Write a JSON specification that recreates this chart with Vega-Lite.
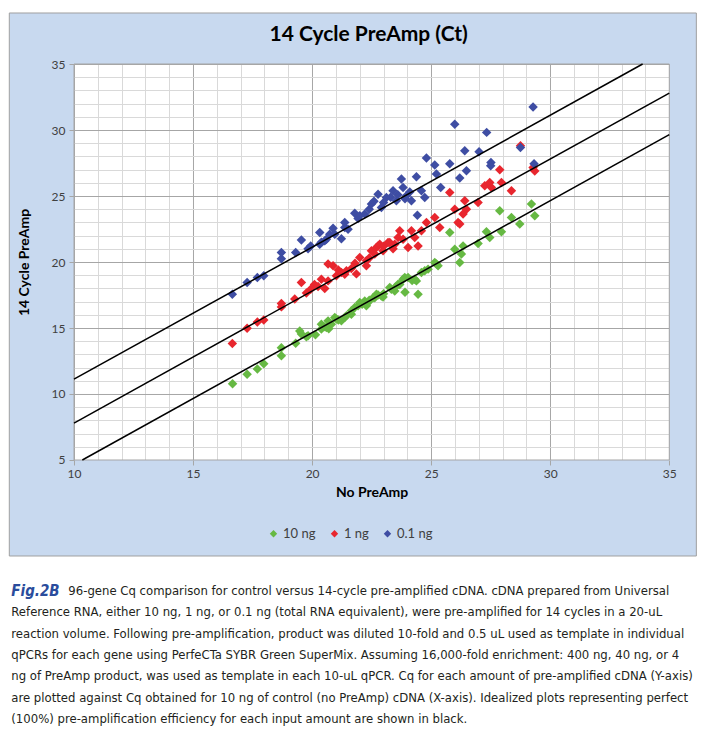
{
  "$schema": "https://vega.github.io/schema/vega-lite/v6.json",
  "background": "white",
  "padding": {"left": 8, "top": 12, "right": 7, "bottom": 0},
  "spacing": 23,
  "align": "none",
  "config": {"font": "Lato", "axis": {"labelOverlap": false}},
  "datasets": {
    "cq": [
      {"amount": "10 ng", "no_preamp": 16.66, "preamp": 10.78},
      {"amount": "10 ng", "no_preamp": 17.27, "preamp": 11.5},
      {"amount": "10 ng", "no_preamp": 17.7, "preamp": 11.9},
      {"amount": "10 ng", "no_preamp": 17.97, "preamp": 12.3},
      {"amount": "10 ng", "no_preamp": 18.71, "preamp": 12.9},
      {"amount": "10 ng", "no_preamp": 18.71, "preamp": 13.5},
      {"amount": "10 ng", "no_preamp": 19.31, "preamp": 13.85},
      {"amount": "10 ng", "no_preamp": 19.48, "preamp": 14.78},
      {"amount": "10 ng", "no_preamp": 19.55, "preamp": 14.55},
      {"amount": "10 ng", "no_preamp": 19.76, "preamp": 14.33},
      {"amount": "10 ng", "no_preamp": 19.83, "preamp": 14.42},
      {"amount": "10 ng", "no_preamp": 20.14, "preamp": 14.48},
      {"amount": "10 ng", "no_preamp": 20.39, "preamp": 14.93},
      {"amount": "10 ng", "no_preamp": 20.39, "preamp": 15.29},
      {"amount": "10 ng", "no_preamp": 20.5, "preamp": 15.1},
      {"amount": "10 ng", "no_preamp": 20.6, "preamp": 15.03},
      {"amount": "10 ng", "no_preamp": 20.67, "preamp": 15.54},
      {"amount": "10 ng", "no_preamp": 20.7, "preamp": 14.95},
      {"amount": "10 ng", "no_preamp": 20.81, "preamp": 15.29},
      {"amount": "10 ng", "no_preamp": 20.95, "preamp": 15.79},
      {"amount": "10 ng", "no_preamp": 21.02, "preamp": 15.69},
      {"amount": "10 ng", "no_preamp": 21.1, "preamp": 15.6},
      {"amount": "10 ng", "no_preamp": 21.23, "preamp": 15.54},
      {"amount": "10 ng", "no_preamp": 21.37, "preamp": 15.79},
      {"amount": "10 ng", "no_preamp": 21.44, "preamp": 15.92},
      {"amount": "10 ng", "no_preamp": 21.65, "preamp": 16.05},
      {"amount": "10 ng", "no_preamp": 21.65, "preamp": 16.3},
      {"amount": "10 ng", "no_preamp": 21.79, "preamp": 16.55},
      {"amount": "10 ng", "no_preamp": 21.93, "preamp": 16.68},
      {"amount": "10 ng", "no_preamp": 22.0, "preamp": 16.93},
      {"amount": "10 ng", "no_preamp": 22.1, "preamp": 16.8},
      {"amount": "10 ng", "no_preamp": 22.21, "preamp": 17.05},
      {"amount": "10 ng", "no_preamp": 22.28, "preamp": 16.68},
      {"amount": "10 ng", "no_preamp": 22.35, "preamp": 16.93},
      {"amount": "10 ng", "no_preamp": 22.4, "preamp": 17.1},
      {"amount": "10 ng", "no_preamp": 22.56, "preamp": 17.3},
      {"amount": "10 ng", "no_preamp": 22.63, "preamp": 17.3},
      {"amount": "10 ng", "no_preamp": 22.7, "preamp": 17.56},
      {"amount": "10 ng", "no_preamp": 22.77, "preamp": 17.5},
      {"amount": "10 ng", "no_preamp": 22.91, "preamp": 17.43},
      {"amount": "10 ng", "no_preamp": 22.98, "preamp": 17.35},
      {"amount": "10 ng", "no_preamp": 23.0, "preamp": 17.6},
      {"amount": "10 ng", "no_preamp": 23.26, "preamp": 18.06},
      {"amount": "10 ng", "no_preamp": 23.33, "preamp": 17.94},
      {"amount": "10 ng", "no_preamp": 23.47, "preamp": 17.81},
      {"amount": "10 ng", "no_preamp": 23.5, "preamp": 18.1},
      {"amount": "10 ng", "no_preamp": 23.61, "preamp": 18.32},
      {"amount": "10 ng", "no_preamp": 23.68, "preamp": 18.3},
      {"amount": "10 ng", "no_preamp": 23.82, "preamp": 18.7},
      {"amount": "10 ng", "no_preamp": 23.89, "preamp": 18.82},
      {"amount": "10 ng", "no_preamp": 23.9, "preamp": 17.7},
      {"amount": "10 ng", "no_preamp": 24.03, "preamp": 18.82},
      {"amount": "10 ng", "no_preamp": 24.2, "preamp": 18.6},
      {"amount": "10 ng", "no_preamp": 24.31, "preamp": 18.7},
      {"amount": "10 ng", "no_preamp": 24.38, "preamp": 18.57},
      {"amount": "10 ng", "no_preamp": 24.45, "preamp": 17.56},
      {"amount": "10 ng", "no_preamp": 24.59, "preamp": 19.2},
      {"amount": "10 ng", "no_preamp": 24.73, "preamp": 19.33},
      {"amount": "10 ng", "no_preamp": 24.87, "preamp": 19.46},
      {"amount": "10 ng", "no_preamp": 25.15, "preamp": 19.96},
      {"amount": "10 ng", "no_preamp": 25.22, "preamp": 19.84},
      {"amount": "10 ng", "no_preamp": 25.29, "preamp": 19.71},
      {"amount": "10 ng", "no_preamp": 25.78, "preamp": 22.23},
      {"amount": "10 ng", "no_preamp": 25.99, "preamp": 20.97},
      {"amount": "10 ng", "no_preamp": 26.2, "preamp": 19.96},
      {"amount": "10 ng", "no_preamp": 26.27, "preamp": 20.6},
      {"amount": "10 ng", "no_preamp": 26.34, "preamp": 21.22},
      {"amount": "10 ng", "no_preamp": 26.97, "preamp": 21.4},
      {"amount": "10 ng", "no_preamp": 27.32, "preamp": 22.3},
      {"amount": "10 ng", "no_preamp": 27.46, "preamp": 21.85},
      {"amount": "10 ng", "no_preamp": 27.88, "preamp": 23.88},
      {"amount": "10 ng", "no_preamp": 27.95, "preamp": 22.3},
      {"amount": "10 ng", "no_preamp": 28.37, "preamp": 23.37},
      {"amount": "10 ng", "no_preamp": 28.72, "preamp": 22.87},
      {"amount": "10 ng", "no_preamp": 29.21, "preamp": 24.39},
      {"amount": "10 ng", "no_preamp": 29.35, "preamp": 23.5},

      {"amount": "1 ng", "no_preamp": 16.65, "preamp": 13.82},
      {"amount": "1 ng", "no_preamp": 17.27, "preamp": 14.98},
      {"amount": "1 ng", "no_preamp": 17.7, "preamp": 15.45},
      {"amount": "1 ng", "no_preamp": 17.97, "preamp": 15.6},
      {"amount": "1 ng", "no_preamp": 18.71, "preamp": 16.85},
      {"amount": "1 ng", "no_preamp": 18.71, "preamp": 16.6},
      {"amount": "1 ng", "no_preamp": 19.27, "preamp": 17.2},
      {"amount": "1 ng", "no_preamp": 19.55, "preamp": 18.44},
      {"amount": "1 ng", "no_preamp": 19.76, "preamp": 17.65},
      {"amount": "1 ng", "no_preamp": 19.94, "preamp": 17.94},
      {"amount": "1 ng", "no_preamp": 20.1, "preamp": 18.3},
      {"amount": "1 ng", "no_preamp": 20.25, "preamp": 18.15},
      {"amount": "1 ng", "no_preamp": 20.39, "preamp": 18.7},
      {"amount": "1 ng", "no_preamp": 20.53, "preamp": 18.0},
      {"amount": "1 ng", "no_preamp": 20.67, "preamp": 18.57},
      {"amount": "1 ng", "no_preamp": 20.67, "preamp": 19.84},
      {"amount": "1 ng", "no_preamp": 20.88, "preamp": 19.71},
      {"amount": "1 ng", "no_preamp": 21.02, "preamp": 18.95},
      {"amount": "1 ng", "no_preamp": 21.1, "preamp": 19.4},
      {"amount": "1 ng", "no_preamp": 21.23, "preamp": 19.2},
      {"amount": "1 ng", "no_preamp": 21.37, "preamp": 19.08},
      {"amount": "1 ng", "no_preamp": 21.44, "preamp": 19.33},
      {"amount": "1 ng", "no_preamp": 21.65, "preamp": 19.5},
      {"amount": "1 ng", "no_preamp": 21.8, "preamp": 19.9},
      {"amount": "1 ng", "no_preamp": 21.86, "preamp": 19.1},
      {"amount": "1 ng", "no_preamp": 22.0, "preamp": 20.34},
      {"amount": "1 ng", "no_preamp": 22.28, "preamp": 20.09},
      {"amount": "1 ng", "no_preamp": 22.28, "preamp": 19.71},
      {"amount": "1 ng", "no_preamp": 22.4, "preamp": 20.3},
      {"amount": "1 ng", "no_preamp": 22.49, "preamp": 20.85},
      {"amount": "1 ng", "no_preamp": 22.63, "preamp": 20.6},
      {"amount": "1 ng", "no_preamp": 22.7, "preamp": 21.1},
      {"amount": "1 ng", "no_preamp": 22.77, "preamp": 21.22},
      {"amount": "1 ng", "no_preamp": 22.84, "preamp": 21.35},
      {"amount": "1 ng", "no_preamp": 22.98, "preamp": 20.85},
      {"amount": "1 ng", "no_preamp": 23.0, "preamp": 21.2},
      {"amount": "1 ng", "no_preamp": 23.19, "preamp": 21.47},
      {"amount": "1 ng", "no_preamp": 23.26, "preamp": 21.47},
      {"amount": "1 ng", "no_preamp": 23.4, "preamp": 21.0},
      {"amount": "1 ng", "no_preamp": 23.47, "preamp": 21.35},
      {"amount": "1 ng", "no_preamp": 23.61, "preamp": 21.85},
      {"amount": "1 ng", "no_preamp": 23.68, "preamp": 22.36},
      {"amount": "1 ng", "no_preamp": 23.82, "preamp": 21.73},
      {"amount": "1 ng", "no_preamp": 24.03, "preamp": 21.1},
      {"amount": "1 ng", "no_preamp": 24.17, "preamp": 22.36},
      {"amount": "1 ng", "no_preamp": 24.31, "preamp": 21.85},
      {"amount": "1 ng", "no_preamp": 24.45, "preamp": 21.22},
      {"amount": "1 ng", "no_preamp": 24.59, "preamp": 22.36},
      {"amount": "1 ng", "no_preamp": 24.8, "preamp": 23.0},
      {"amount": "1 ng", "no_preamp": 25.15, "preamp": 23.37},
      {"amount": "1 ng", "no_preamp": 25.36, "preamp": 22.61},
      {"amount": "1 ng", "no_preamp": 25.78, "preamp": 25.27},
      {"amount": "1 ng", "no_preamp": 25.99, "preamp": 24.0},
      {"amount": "1 ng", "no_preamp": 26.13, "preamp": 23.0},
      {"amount": "1 ng", "no_preamp": 26.2, "preamp": 22.87},
      {"amount": "1 ng", "no_preamp": 26.34, "preamp": 23.63},
      {"amount": "1 ng", "no_preamp": 26.41, "preamp": 24.64},
      {"amount": "1 ng", "no_preamp": 26.48, "preamp": 24.0},
      {"amount": "1 ng", "no_preamp": 26.97, "preamp": 24.51},
      {"amount": "1 ng", "no_preamp": 27.25, "preamp": 25.77},
      {"amount": "1 ng", "no_preamp": 27.46, "preamp": 26.02},
      {"amount": "1 ng", "no_preamp": 27.53, "preamp": 25.65},
      {"amount": "1 ng", "no_preamp": 27.88, "preamp": 26.99},
      {"amount": "1 ng", "no_preamp": 27.95, "preamp": 26.02},
      {"amount": "1 ng", "no_preamp": 28.37, "preamp": 25.39},
      {"amount": "1 ng", "no_preamp": 28.75, "preamp": 28.8},
      {"amount": "1 ng", "no_preamp": 29.28, "preamp": 27.16},
      {"amount": "1 ng", "no_preamp": 29.35, "preamp": 26.9},

      {"amount": "0.1 ng", "no_preamp": 16.65, "preamp": 17.56},
      {"amount": "0.1 ng", "no_preamp": 17.27, "preamp": 18.44},
      {"amount": "0.1 ng", "no_preamp": 17.7, "preamp": 18.82},
      {"amount": "0.1 ng", "no_preamp": 17.97, "preamp": 18.95},
      {"amount": "0.1 ng", "no_preamp": 18.71, "preamp": 20.25},
      {"amount": "0.1 ng", "no_preamp": 18.71, "preamp": 20.72},
      {"amount": "0.1 ng", "no_preamp": 19.31, "preamp": 20.72},
      {"amount": "0.1 ng", "no_preamp": 19.55, "preamp": 21.66},
      {"amount": "0.1 ng", "no_preamp": 19.83, "preamp": 21.0},
      {"amount": "0.1 ng", "no_preamp": 19.94, "preamp": 21.22},
      {"amount": "0.1 ng", "no_preamp": 20.32, "preamp": 22.23},
      {"amount": "0.1 ng", "no_preamp": 20.32, "preamp": 21.35},
      {"amount": "0.1 ng", "no_preamp": 20.39, "preamp": 21.5},
      {"amount": "0.1 ng", "no_preamp": 20.53, "preamp": 21.6},
      {"amount": "0.1 ng", "no_preamp": 20.6, "preamp": 21.73},
      {"amount": "0.1 ng", "no_preamp": 20.74, "preamp": 22.11},
      {"amount": "0.1 ng", "no_preamp": 20.88, "preamp": 22.55},
      {"amount": "0.1 ng", "no_preamp": 20.95, "preamp": 22.11},
      {"amount": "0.1 ng", "no_preamp": 21.23, "preamp": 21.77},
      {"amount": "0.1 ng", "no_preamp": 21.37, "preamp": 22.61},
      {"amount": "0.1 ng", "no_preamp": 21.37, "preamp": 22.99},
      {"amount": "0.1 ng", "no_preamp": 21.51, "preamp": 22.49},
      {"amount": "0.1 ng", "no_preamp": 21.79, "preamp": 23.7},
      {"amount": "0.1 ng", "no_preamp": 21.93, "preamp": 23.3},
      {"amount": "0.1 ng", "no_preamp": 22.0, "preamp": 23.5},
      {"amount": "0.1 ng", "no_preamp": 22.21, "preamp": 23.63},
      {"amount": "0.1 ng", "no_preamp": 22.4, "preamp": 24.0},
      {"amount": "0.1 ng", "no_preamp": 22.49, "preamp": 24.39},
      {"amount": "0.1 ng", "no_preamp": 22.6, "preamp": 24.6},
      {"amount": "0.1 ng", "no_preamp": 22.77, "preamp": 25.14},
      {"amount": "0.1 ng", "no_preamp": 22.91, "preamp": 24.13},
      {"amount": "0.1 ng", "no_preamp": 23.0, "preamp": 24.5},
      {"amount": "0.1 ng", "no_preamp": 23.12, "preamp": 24.89},
      {"amount": "0.1 ng", "no_preamp": 23.3, "preamp": 24.9},
      {"amount": "0.1 ng", "no_preamp": 23.4, "preamp": 25.39},
      {"amount": "0.1 ng", "no_preamp": 23.54, "preamp": 24.64},
      {"amount": "0.1 ng", "no_preamp": 23.6, "preamp": 25.1},
      {"amount": "0.1 ng", "no_preamp": 23.75, "preamp": 26.28},
      {"amount": "0.1 ng", "no_preamp": 23.82, "preamp": 25.65},
      {"amount": "0.1 ng", "no_preamp": 23.9, "preamp": 24.8},
      {"amount": "0.1 ng", "no_preamp": 23.96, "preamp": 25.02},
      {"amount": "0.1 ng", "no_preamp": 24.1, "preamp": 25.3},
      {"amount": "0.1 ng", "no_preamp": 24.17, "preamp": 24.64},
      {"amount": "0.1 ng", "no_preamp": 24.38, "preamp": 26.46},
      {"amount": "0.1 ng", "no_preamp": 24.42, "preamp": 23.55},
      {"amount": "0.1 ng", "no_preamp": 24.59, "preamp": 25.39},
      {"amount": "0.1 ng", "no_preamp": 24.73, "preamp": 24.89},
      {"amount": "0.1 ng", "no_preamp": 24.8, "preamp": 27.88},
      {"amount": "0.1 ng", "no_preamp": 25.15, "preamp": 27.35},
      {"amount": "0.1 ng", "no_preamp": 25.22, "preamp": 26.66},
      {"amount": "0.1 ng", "no_preamp": 25.4, "preamp": 25.65},
      {"amount": "0.1 ng", "no_preamp": 25.78, "preamp": 27.44},
      {"amount": "0.1 ng", "no_preamp": 25.99, "preamp": 30.43},
      {"amount": "0.1 ng", "no_preamp": 26.2, "preamp": 26.36},
      {"amount": "0.1 ng", "no_preamp": 26.41, "preamp": 28.43},
      {"amount": "0.1 ng", "no_preamp": 26.48, "preamp": 26.92},
      {"amount": "0.1 ng", "no_preamp": 27.01, "preamp": 28.36},
      {"amount": "0.1 ng", "no_preamp": 27.33, "preamp": 29.82},
      {"amount": "0.1 ng", "no_preamp": 27.51, "preamp": 27.54},
      {"amount": "0.1 ng", "no_preamp": 27.5, "preamp": 27.3},
      {"amount": "0.1 ng", "no_preamp": 28.75, "preamp": 28.68},
      {"amount": "0.1 ng", "no_preamp": 29.28, "preamp": 31.75},
      {"amount": "0.1 ng", "no_preamp": 29.32, "preamp": 27.44}
    ],
    "ideal": [
      {"amount": "0.1 ng", "no_preamp": 10, "preamp": 11.12},
      {"amount": "0.1 ng", "no_preamp": 33.88, "preamp": 35},
      {"amount": "1 ng", "no_preamp": 10, "preamp": 7.8},
      {"amount": "1 ng", "no_preamp": 35, "preamp": 32.8},
      {"amount": "10 ng", "no_preamp": 10.35, "preamp": 5},
      {"amount": "10 ng", "no_preamp": 35, "preamp": 29.65}
    ],
    "caption": [
      {"line": 1, "text": "96-gene Cq comparison for control versus 14-cycle pre-amplified cDNA. cDNA prepared from Universal"},
      {"line": 2, "text": "Reference RNA, either 10 ng, 1 ng, or 0.1 ng (total RNA equivalent), were pre-amplified for 14 cycles in a 20-uL"},
      {"line": 3, "text": "reaction volume. Following pre-amplification, product was diluted 10-fold and 0.5 uL used as template in individual"},
      {"line": 4, "text": "qPCRs for each gene using PerfeCTa SYBR Green SuperMix. Assuming 16,000-fold enrichment: 400 ng, 40 ng, or 4"},
      {"line": 5, "text": "ng of PreAmp product, was used as template in each 10-uL qPCR. Cq for each amount of pre-amplified cDNA (Y-axis)"},
      {"line": 6, "text": "are plotted against Cq obtained for 10 ng of control (no PreAmp) cDNA (X-axis). Idealized plots representing perfect"},
      {"line": 7, "text": "(100%) pre-amplification efficiency for each input amount are shown in black."}
    ]
  },
  "vconcat": [
    {
      "width": 595.3,
      "height": 396,
      "view": {"fill": "white", "stroke": null},
      "title": {
        "text": "14 Cycle PreAmp (Ct)",
        "offset": -44,
        "baseline": "middle",
        "dx": -3,
        "font": "Lato",
        "fontSize": 21,
        "fontWeight": "bold",
        "color": "#000000"
      },
      "resolve": {"axis": {"x": "independent", "y": "independent"}},
      "layer": [
        {
          "description": "chart area band above the plot, carries the labelled axes",
          "data": {"values": [{}]},
          "mark": {"type": "rect", "fill": "#C8D9EF", "strokeWidth": 0},
          "encoding": {
            "x": {
              "datum": 7.283,
              "type": "quantitative",
              "scale": {"domain": [10, 35], "nice": false, "zero": false},
              "axis": {
                "orient": "bottom",
                "zindex": 1,
                "values": [10, 15, 20, 25, 30, 35],
                "format": "d",
                "grid": false,
                "domain": false,
                "ticks": true,
                "tickSize": 5,
                "tickColor": "#A6A6A6",
                "labelFlush": false,
                "labelFont": "Lato",
                "labelFontSize": 12,
                "labelColor": "#404040",
                "labelPadding": 4,
                "title": "No PreAmp",
                "titleFont": "Lato",
                "titleFontSize": 14,
                "titleFontWeight": "bold",
                "titleColor": "#000000",
                "titlePadding": 6
              }
            },
            "x2": {"datum": 36.136},
            "y": {
              "datum": 35,
              "type": "quantitative",
              "scale": {"domain": [5, 35], "nice": false, "zero": false},
              "axis": {
                "orient": "left",
                "zindex": 1,
                "values": [5, 10, 15, 20, 25, 30, 35],
                "format": "d",
                "grid": false,
                "domain": false,
                "ticks": true,
                "tickSize": 5,
                "tickColor": "#A6A6A6",
                "labelFlush": false,
                "labelFont": "Lato",
                "labelFontSize": 12,
                "labelColor": "#404040",
                "labelPadding": 4,
                "title": "14 Cycle PreAmp",
                "titleFont": "Lato",
                "titleFontSize": 14,
                "titleFontWeight": "bold",
                "titleColor": "#000000",
                "titlePadding": 20
              }
            },
            "y2": {"datum": 38.864}
          }
        },
        {
          "description": "chart area band below the plot",
          "data": {"values": [{}]},
          "mark": {"type": "rect", "fill": "#C8D9EF", "strokeWidth": 0},
          "encoding": {
            "x": {"datum": 7.283, "type": "quantitative", "scale": {"domain": [10, 35], "nice": false, "zero": false}, "axis": null},
            "x2": {"datum": 36.136},
            "y": {"datum": -2.273, "type": "quantitative", "scale": {"domain": [5, 35], "nice": false, "zero": false}, "axis": null},
            "y2": {"datum": 5}
          }
        },
        {
          "description": "chart area band left of the plot",
          "data": {"values": [{}]},
          "mark": {"type": "rect", "fill": "#C8D9EF", "strokeWidth": 0},
          "encoding": {
            "x": {"datum": 7.283, "type": "quantitative", "scale": {"domain": [10, 35], "nice": false, "zero": false}, "axis": null},
            "x2": {"datum": 10},
            "y": {"datum": 5, "type": "quantitative", "scale": {"domain": [5, 35], "nice": false, "zero": false}, "axis": null},
            "y2": {"datum": 35}
          }
        },
        {
          "description": "chart area band right of the plot",
          "data": {"values": [{}]},
          "mark": {"type": "rect", "fill": "#C8D9EF", "strokeWidth": 0},
          "encoding": {
            "x": {"datum": 35, "type": "quantitative", "scale": {"domain": [10, 35], "nice": false, "zero": false}, "axis": null},
            "x2": {"datum": 36.136},
            "y": {"datum": 5, "type": "quantitative", "scale": {"domain": [5, 35], "nice": false, "zero": false}, "axis": null},
            "y2": {"datum": 35}
          }
        },
        {
          "description": "chart area border",
          "data": {"values": [{}]},
          "mark": {"type": "rect", "fill": null, "stroke": "#A0A0A0", "strokeWidth": 1},
          "encoding": {
            "x": {"datum": 7.283, "type": "quantitative", "scale": {"domain": [10, 35], "nice": false, "zero": false}, "axis": null},
            "x2": {"datum": 36.136},
            "y": {"datum": -2.273, "type": "quantitative", "scale": {"domain": [5, 35], "nice": false, "zero": false}, "axis": null},
            "y2": {"datum": 38.864}
          }
        },
        {
          "description": "plot area border",
          "data": {"values": [{}]},
          "mark": {"type": "rect", "fill": null, "stroke": "#A6A6A6", "strokeWidth": 1},
          "encoding": {
            "x": {"datum": 10, "type": "quantitative", "scale": {"domain": [10, 35], "nice": false, "zero": false}, "axis": null},
            "x2": {"datum": 35},
            "y": {"datum": 5, "type": "quantitative", "scale": {"domain": [5, 35], "nice": false, "zero": false}, "axis": null},
            "y2": {"datum": 35}
          }
        },
        {
          "data": {"name": "cq"},
          "mark": {"type": "point", "shape": "diamond", "filled": true, "size": 90, "opacity": 1, "strokeWidth": 0},
          "encoding": {
            "x": {
              "field": "no_preamp",
              "type": "quantitative",
              "scale": {"domain": [10, 35], "nice": false, "zero": false},
              "axis": {
                "orient": "bottom",
                "zindex": 0,
                "values": [10, 11, 12, 13, 14, 15, 16, 17, 18, 19, 20, 21, 22, 23, 24, 25, 26, 27, 28, 29, 30, 31, 32, 33, 34, 35],
                "tickCount": 60,
                "grid": true,
                "gridColor": {"condition": {"test": "datum.value % 5 === 0", "value": "#A6A6A6"}, "value": "#D9D9D9"},
                "gridWidth": 1,
                "domain": false,
                "ticks": false,
                "labels": false,
                "title": null
              }
            },
            "y": {
              "field": "preamp",
              "type": "quantitative",
              "scale": {"domain": [5, 35], "nice": false, "zero": false},
              "axis": {
                "orient": "left",
                "zindex": 0,
                "values": [5, 6, 7, 8, 9, 10, 11, 12, 13, 14, 15, 16, 17, 18, 19, 20, 21, 22, 23, 24, 25, 26, 27, 28, 29, 30, 31, 32, 33, 34, 35],
                "tickCount": 60,
                "grid": true,
                "gridColor": {"condition": {"test": "datum.value % 5 === 0", "value": "#A6A6A6"}, "value": "#D9D9D9"},
                "gridWidth": 1,
                "domain": false,
                "ticks": false,
                "labels": false,
                "title": null
              }
            },
            "color": {
              "field": "amount",
              "type": "nominal",
              "scale": {"domain": ["10 ng", "1 ng", "0.1 ng"], "range": ["#66B943", "#E8262E", "#3E4DA3"]},
              "legend": {
                "orient": "none",
                "legendX": 193,
                "legendY": 463,
                "direction": "horizontal",
                "title": null,
                "symbolType": "diamond",
                "symbolSize": 55,
                "symbolStrokeWidth": 0,
                "labelFont": "Lato",
                "labelFontSize": 13,
                "labelColor": "#404040",
                "labelOffset": 3,
                "columnPadding": 12,
                "padding": 0
              }
            }
          }
        },
        {
          "data": {"name": "ideal"},
          "mark": {"type": "line", "color": "#000000", "strokeWidth": 1.5},
          "encoding": {
            "x": {"field": "no_preamp", "type": "quantitative", "scale": {"domain": [10, 35], "nice": false, "zero": false}, "axis": null},
            "y": {"field": "preamp", "type": "quantitative", "scale": {"domain": [5, 35], "nice": false, "zero": false}, "axis": null},
            "detail": {"field": "amount", "type": "nominal"}
          }
        }
      ]
    },
    {
      "width": 595.3,
      "height": 150,
      "view": {"stroke": null},
      "data": {"name": "caption"},
      "encoding": {
        "y": {
          "field": "line",
          "type": "ordinal",
          "scale": {"type": "point", "padding": 0.5, "domain": [1, 2, 3, 4, 5, 6, 7]},
          "axis": null
        }
      },
      "layer": [
        {
          "transform": [{"filter": "datum.line === 1"}],
          "mark": {"type": "text", "align": "left", "baseline": "middle", "dx": -62.7, "font": "DejaVu Sans Condensed", "fontSize": 15, "fontWeight": "bold", "fontStyle": "italic", "color": "#2A4C9C"},
          "encoding": {"x": {"value": 0}, "text": {"value": "Fig.2B"}}
        },
        {
          "transform": [{"filter": "datum.line === 1"}],
          "mark": {"type": "text", "align": "left", "baseline": "middle", "dx": -5.7, "font": "DejaVu Sans Condensed", "fontSize": 13, "color": "#231F20"},
          "encoding": {"x": {"value": 0}, "text": {"field": "text"}}
        },
        {
          "transform": [{"filter": "datum.line > 1"}],
          "mark": {"type": "text", "align": "left", "baseline": "middle", "dx": -62.7, "font": "DejaVu Sans Condensed", "fontSize": 13, "color": "#231F20"},
          "encoding": {"x": {"value": 0}, "text": {"field": "text"}}
        }
      ]
    }
  ]
}
